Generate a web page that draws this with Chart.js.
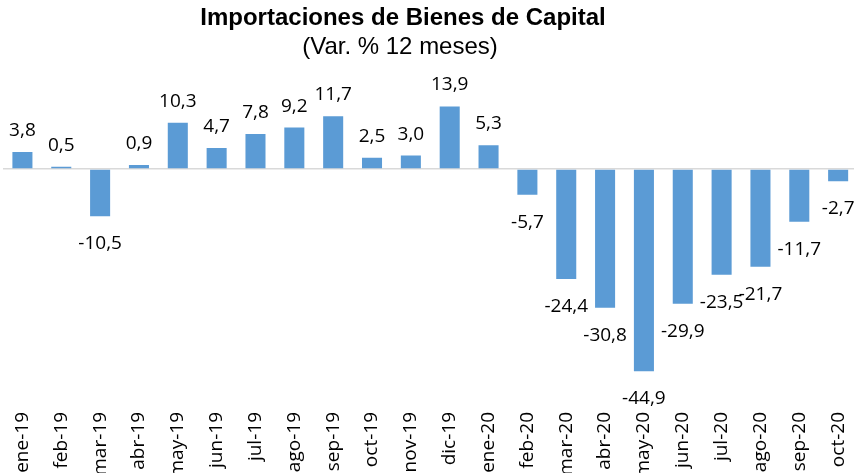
<!DOCTYPE html>
<html>
<head>
<meta charset="utf-8">
<script src="https://cdn.jsdelivr.net/npm/chart.js@4"></script>
<style>
  html, body { margin: 0; padding: 0; background: #ffffff; overflow: hidden; }
  #c { display: block; }
</style>
</head>
<body>
<canvas id="c" width="864" height="473" style="width:864px;height:473px;"></canvas>
<script>
const titleText = 'Importaciones de Bienes de Capital';
const subtitleText = '(Var. % 12 meses)';
const categories = ['ene-19','feb-19','mar-19','abr-19','may-19','jun-19','jul-19','ago-19','sep-19','oct-19','nov-19','dic-19',
                    'ene-20','feb-20','mar-20','abr-20','may-20','jun-20','jul-20','ago-20','sep-20','oct-20'];
const values = [3.8, 0.5, -10.5, 0.9, 10.3, 4.7, 7.8, 9.2, 11.7, 2.5, 3.0, 13.9,
                5.3, -5.7, -24.4, -30.8, -44.9, -29.9, -23.5, -21.7, -11.7, -2.7];
const yMin = -53.3;
const yMax = 20;

const fmt = v => v.toFixed(1).replace('.', ',');

const titlePlugin = {
  id: 'titles',
  afterDraw(chart) {
    const ctx = chart.ctx;
    ctx.save();
    ctx.fillStyle = '#000000';
    ctx.textAlign = 'center';
    ctx.textBaseline = 'alphabetic';
    ctx.font = 'bold 24px "Liberation Sans", Arial, sans-serif';
    ctx.fillText(titleText, 403, 25);
    ctx.font = '24px "Liberation Sans", Arial, sans-serif';
    ctx.fillText(subtitleText, 400, 54);
    ctx.restore();
  }
};

const labelPlugin = {
  id: 'barLabels',
  afterDatasetsDraw(chart) {
    const ctx = chart.ctx;
    const meta = chart.getDatasetMeta(0);
    ctx.save();
    ctx.fillStyle = '#000000';
    ctx.textAlign = 'center';
    ctx.textBaseline = 'alphabetic';
    ctx.font = '19px "Open Sans", sans-serif';
    meta.data.forEach((bar, i) => {
      const v = values[i];
      const txt = fmt(v);
      if (v >= 0) {
        ctx.fillText(txt, bar.x, bar.y - 16);
      } else {
        ctx.fillText(txt, bar.x, bar.y + 33);
      }
    });
    ctx.restore();
  }
};

new Chart(document.getElementById('c'), {
  type: 'bar',
  data: {
    labels: categories,
    datasets: [{
      data: values,
      backgroundColor: '#5B9BD5',
      borderWidth: 0,
      categoryPercentage: 0.6,
      barPercentage: 0.86
    }]
  },
  options: {
    responsive: false,
    animation: false,
    devicePixelRatio: 1,
    layout: { padding: { left: 3, right: 2.6, top: 79, bottom: 0 } },
    plugins: {
      legend: { display: false },
      title: { display: false },
      tooltip: { enabled: false }
    },
    scales: {
      x: {
        grid: { display: false, drawTicks: false },
        border: { display: false },
        ticks: {
          color: '#000000',
          font: { family: '"Open Sans", sans-serif', size: 19 },
          minRotation: 90,
          maxRotation: 90,
          autoSkip: false,
          padding: 3
        },
        afterFit(scale) { scale.height = 64; }
      },
      y: {
        min: yMin,
        max: yMax,
        ticks: { display: false, stepSize: 10 },
        border: { display: false },
        grid: {
          drawTicks: false,
          lineWidth: 1.5,
          color: c => (c.tick && c.tick.value === 0) ? '#D9D9D9' : 'rgba(0,0,0,0)'
        },
        afterFit(scale) { scale.width = 0; }
      }
    }
  },
  plugins: [titlePlugin, labelPlugin]
});
</script>
</body>
</html>
